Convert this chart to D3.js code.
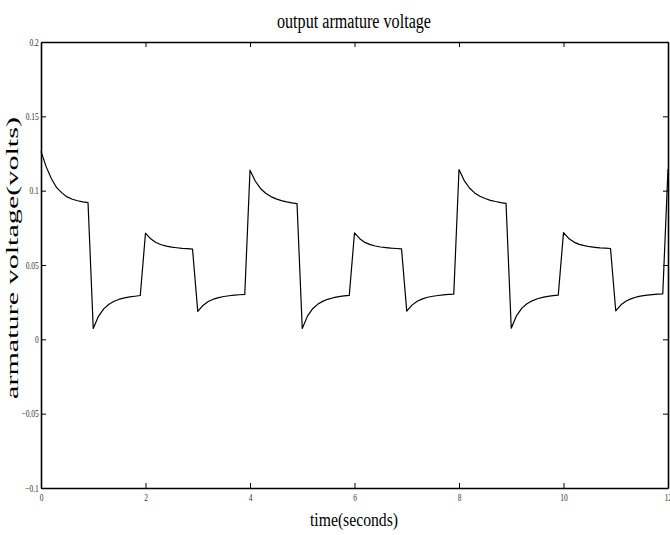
<!DOCTYPE html>
<html>
<head>
<meta charset="utf-8">
<script src="https://cdn.jsdelivr.net/npm/d3@7"></script>
<style>
    body { margin: 0; background: #fff; }
    svg { display: block; }
</style>
</head>
<body>
<svg id="chart"></svg>
<script>
let timeSec = [
    0.0, 0.1, 0.2, 0.3, 0.4, 0.5, 0.6, 0.7, 0.8, 0.9,
    1.0, 1.1, 1.2, 1.3, 1.4, 1.5, 1.6, 1.7, 1.8, 1.9,
    2.0, 2.1, 2.2, 2.3, 2.4, 2.5, 2.6, 2.7, 2.8, 2.9,
    3.0, 3.1, 3.2, 3.3, 3.4, 3.5, 3.6, 3.7, 3.8, 3.9,
    4.0, 4.1, 4.2, 4.3, 4.4, 4.5, 4.6, 4.7, 4.8, 4.9,
    5.0, 5.1, 5.2, 5.3, 5.4, 5.5, 5.6, 5.7, 5.8, 5.9,
    6.0, 6.1, 6.2, 6.3, 6.4, 6.5, 6.6, 6.7, 6.8, 6.9,
    7.0, 7.1, 7.2, 7.3, 7.4, 7.5, 7.6, 7.7, 7.8, 7.9,
    8.0, 8.1, 8.2, 8.3, 8.4, 8.5, 8.6, 8.7, 8.8, 8.9,
    9.0, 9.1, 9.2, 9.3, 9.4, 9.5, 9.6, 9.7, 9.8, 9.9,
    10.0, 10.1, 10.2, 10.3, 10.4, 10.5, 10.6, 10.7, 10.8, 10.9,
    11.0, 11.1, 11.2, 11.3, 11.4, 11.5, 11.6, 11.7, 11.8, 11.9,
    12.0
];

let armatureVolts = [
    0.1264, 0.1160, 0.1080, 0.1020, 0.0985, 0.0958, 0.0942, 0.0932, 0.0925, 0.0920,
    0.0073, 0.0155, 0.0205, 0.0236, 0.0256, 0.0270, 0.0279, 0.0285, 0.0290, 0.0295,
    0.0715, 0.0676, 0.0651, 0.0636, 0.0627, 0.0620, 0.0616, 0.0612, 0.0610, 0.0607,
    0.0188, 0.0228, 0.0254, 0.0270, 0.0281, 0.0288, 0.0293, 0.0297, 0.0300, 0.0302,
    0.1138, 0.1065, 0.1015, 0.0983, 0.0960, 0.0945, 0.0933, 0.0925, 0.0918, 0.0913,
    0.0073, 0.0156, 0.0206, 0.0237, 0.0257, 0.0271, 0.0280, 0.0287, 0.0292, 0.0296,
    0.0716, 0.0677, 0.0652, 0.0637, 0.0628, 0.0621, 0.0617, 0.0613, 0.0611, 0.0609,
    0.0190, 0.0230, 0.0256, 0.0272, 0.0283, 0.0290, 0.0295, 0.0299, 0.0302, 0.0304,
    0.1142, 0.1068, 0.1018, 0.0985, 0.0962, 0.0947, 0.0935, 0.0927, 0.0920, 0.0915,
    0.0075, 0.0158, 0.0208, 0.0239, 0.0259, 0.0273, 0.0282, 0.0289, 0.0294, 0.0298,
    0.0718, 0.0679, 0.0654, 0.0639, 0.0630, 0.0623, 0.0619, 0.0615, 0.0613, 0.0611,
    0.0192, 0.0232, 0.0258, 0.0274, 0.0285, 0.0292, 0.0297, 0.0301, 0.0304, 0.0306,
    0.1145
];

let xTicks = [0, 2, 4, 6, 8, 10, 12];
let yTicks = [-0.1, -0.05, 0, 0.05, 0.1, 0.15, 0.2];

let titleText = "output armature voltage";
let xLabelText = "time(seconds)";
let yLabelText = "armature voltage(volts)";

function drawChart() {
    let width = 670,
        height = 535;
    let margin = {top: 42, right: 2, bottom: 47, left: 41};

    let svg = d3.select("#chart")
        .attr("width", width)
        .attr("height", height);

    let innerW = width - margin.left - margin.right,
        innerH = height - margin.top - margin.bottom;

    let x = d3.scaleLinear().domain([0, 12]).range([0, innerW]);
    let y = d3.scaleLinear().domain([-0.1, 0.2]).range([innerH, 0]);

    let g = svg.append("g")
        .attr("transform", "translate(" + margin.left + "," + margin.top + ")");

    let tickFmt = function (d) {
        return d === 0 ? "0" : d3.format("")(+d.toFixed(2));
    };

    // labelled axes, ticks point inward like matlab
    let xAxis = g.append("g")
        .attr("transform", "translate(0," + innerH + ")")
        .call(d3.axisBottom(x).tickValues(xTicks).tickSizeInner(-5).tickSizeOuter(0)
            .tickPadding(6).tickFormat(tickFmt));

    let yAxis = g.append("g")
        .call(d3.axisLeft(y).tickValues(yTicks).tickSizeInner(-5).tickSizeOuter(0)
            .tickPadding(3).tickFormat(tickFmt));

    // unlabelled top / right ticks
    g.append("g")
        .call(d3.axisTop(x).tickValues(xTicks).tickSizeInner(-5).tickSizeOuter(0).tickFormat(""));
    g.append("g")
        .attr("transform", "translate(" + innerW + ",0)")
        .call(d3.axisRight(y).tickValues(yTicks).tickSizeInner(-5).tickSizeOuter(0).tickFormat(""));

    g.selectAll(".domain").attr("stroke", "#000").attr("stroke-width", 1.6);
    g.selectAll(".tick line").attr("stroke", "#000").attr("stroke-width", 1);

    [xAxis, yAxis].forEach(function (ax) {
        ax.selectAll("text")
            .attr("font-family", "'Liberation Serif', 'DejaVu Serif', serif")
            .attr("font-size", 10)
            .attr("fill", "#333");
    });
    yAxis.selectAll(".tick text").attr("transform", "scale(0.75,1)");
    xAxis.selectAll(".tick text").attr("transform", "scale(0.75,1)");

    let line = d3.line()
        .x(function (d) { return x(d[0]); })
        .y(function (d) { return y(d[1]); })
        .curve(d3.curveLinear);

    let points = timeSec.map(function (t, i) {
        return [t, armatureVolts[i]];
    });

    g.append("path")
        .datum(points)
        .attr("fill", "none")
        .attr("stroke", "#000")
        .attr("stroke-width", 1.2)
        .attr("stroke-linejoin", "round")
        .attr("d", line);

    svg.append("text")
        .attr("x", 277)
        .attr("y", 28)
        .attr("font-family", "'Liberation Serif', serif")
        .attr("font-size", 20)
        .attr("textLength", 154)
        .attr("lengthAdjust", "spacingAndGlyphs")
        .text(titleText);

    svg.append("text")
        .attr("x", 310)
        .attr("y", 526)
        .attr("font-family", "'Liberation Serif', serif")
        .attr("font-size", 19)
        .attr("textLength", 88)
        .attr("lengthAdjust", "spacingAndGlyphs")
        .text(xLabelText);

    svg.append("text")
        .attr("transform", "translate(18,399) rotate(-90)")
        .attr("font-family", "'Liberation Serif', serif")
        .attr("font-size", 17)
        .attr("textLength", 282)
        .attr("lengthAdjust", "spacingAndGlyphs")
        .text(yLabelText);
}

drawChart();
</script>
</body>
</html>
